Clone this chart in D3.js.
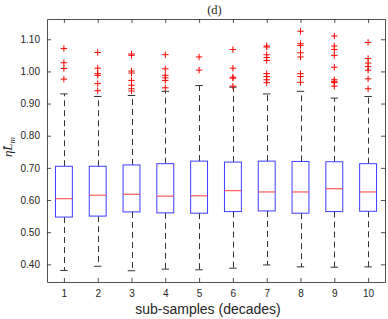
<!DOCTYPE html>
<html lang="en">
  <head>
    <meta charset="utf-8" />
    <script src="https://d3js.org/d3.v7.min.js"></script>
    <style>
      body { margin: 0; background: #fff; }
      .tick text { font-family: 'Liberation Sans', Arial, sans-serif; font-size: 10px; fill: #262626; }
    </style>
  </head>
  <body>
    <svg id="chart" width="388" height="319"></svg>
    <script>
      // sub-samples (decades)
      const categories = [1, 2, 3, 4, 5, 6, 7, 8, 9, 10];
      const q1 = [0.547, 0.550, 0.563, 0.560, 0.559, 0.564, 0.566, 0.559, 0.564, 0.565];
      const medians = [0.604, 0.615, 0.618, 0.612, 0.613, 0.629, 0.625, 0.625, 0.635, 0.625];
      const q3 = [0.705, 0.705, 0.709, 0.713, 0.721, 0.718, 0.721, 0.720, 0.719, 0.713];
      const whiskerLow = [0.381, 0.394, 0.380, 0.385, 0.383, 0.388, 0.398, 0.392, 0.391, 0.392];
      const whiskerHigh = [0.930, 0.922, 0.925, 0.938, 0.956, 0.951, 0.930, 0.938, 0.917, 0.922];
      const outliers = [
        [1.071, 1.027, 1.009, 0.976],
        [1.059, 1.010, 0.993, 0.988, 0.962, 0.940],
        [1.054, 1.050, 1.001, 0.995, 0.972, 0.957, 0.946, 0.939],
        [1.052, 1.008, 0.988, 0.980, 0.972, 0.949],
        [1.045, 1.004],
        [1.068, 1.010, 0.982, 0.979, 0.954],
        [1.079, 1.076, 1.052, 1.043, 1.034, 0.993, 0.984, 0.974, 0.965],
        [1.125, 1.086, 1.081, 1.058, 1.045, 0.993, 0.984, 0.966],
        [1.110, 1.079, 1.068, 1.050, 1.013, 0.974, 0.969, 0.965, 0.954],
        [1.090, 1.040, 1.026, 1.015, 1.004, 0.977, 0.946]
      ];
      const yTicks = [0.4, 0.5, 0.6, 0.7, 0.8, 0.9, 1.0, 1.1];

      const svg = d3.select('#chart');
      const margin = { top: 19, right: 3, bottom: 37, left: 47 };
      const width = 388 - margin.left - margin.right;
      const height = 319 - margin.top - margin.bottom;

      const x = d3.scaleLinear().domain([0.5, 10.5]).range([0, width]);
      const y = d3.scaleLinear().domain([0.345, 1.163]).range([height, 0]);

      const g = svg.append('g').attr('transform', `translate(${margin.left},${margin.top})`);

      const boxes = categories.map((c, i) => ({
        c, q1: q1[i], med: medians[i], q3: q3[i],
        lo: whiskerLow[i], hi: whiskerHigh[i], out: outliers[i]
      }));

      const halfBox = 0.25, halfCap = 0.11;

      const bg = g.selectAll('g.box').data(boxes).enter().append('g').attr('class', 'box');

      // whiskers
      bg.append('line')
        .attr('x1', d => Math.round(x(d.c)) + 0.5).attr('x2', d => Math.round(x(d.c)) + 0.5)
        .attr('y1', d => y(d.q3)).attr('y2', d => y(d.hi))
        .attr('stroke', '#333').attr('stroke-dasharray', '6,4');
      bg.append('line')
        .attr('x1', d => Math.round(x(d.c)) + 0.5).attr('x2', d => Math.round(x(d.c)) + 0.5)
        .attr('y1', d => y(d.q1)).attr('y2', d => y(d.lo))
        .attr('stroke', '#333').attr('stroke-dasharray', '6,4');
      // caps
      ['hi', 'lo'].forEach(k => {
        bg.append('line')
          .attr('x1', d => x(d.c - halfCap)).attr('x2', d => x(d.c + halfCap))
          .attr('y1', d => y(d[k])).attr('y2', d => y(d[k]))
          .attr('stroke', '#333');
      });

      // box
      bg.append('rect')
        .attr('x', d => x(d.c - halfBox)).attr('width', d => x(d.c + halfBox) - x(d.c - halfBox))
        .attr('y', d => y(d.q3)).attr('height', d => y(d.q1) - y(d.q3))
        .attr('fill', 'none').attr('stroke', '#3c3cff');

      // median
      bg.append('line')
        .attr('x1', d => x(d.c - halfBox)).attr('x2', d => x(d.c + halfBox))
        .attr('y1', d => y(d.med)).attr('y2', d => y(d.med))
        .attr('stroke', '#ff3b3b');

      // outliers
      bg.selectAll('path.out')
        .data(d => d.out.map(v => ({ c: d.c, v })))
        .enter().append('path')
        .attr('class', 'out')
        .attr('d', d => {
          const cx = x(d.c), cy = y(d.v), s = 3.2;
          return `M${cx - s},${cy}H${cx + s}M${cx},${cy - s}V${cy + s}`;
        })
        .attr('stroke', '#ff0000').attr('fill', 'none');

      // axes (ticks inward, box all round)
      const axisColor = '#262626';
      g.append('g').attr('transform', `translate(0,${height})`)
        .call(d3.axisBottom(x).tickValues(categories).tickSizeInner(-4).tickSizeOuter(0).tickPadding(8));
      g.append('g')
        .call(d3.axisLeft(y).tickValues(yTicks).tickFormat(d3.format('.2f')).tickSizeInner(-4).tickSizeOuter(0).tickPadding(7));
      g.append('g')
        .call(d3.axisTop(x).tickValues(categories).tickSizeInner(-4).tickSizeOuter(0).tickFormat(''));
      g.append('g').attr('transform', `translate(${width},0)`)
        .call(d3.axisRight(y).tickValues(yTicks).tickSizeInner(-4).tickSizeOuter(0).tickFormat(''));
      g.selectAll('.domain, .tick line').attr('stroke', axisColor).attr('stroke-width', 0.8);

      // title
      svg.append('text')
        .attr('x', 214.5).attr('y', 14)
        .attr('text-anchor', 'middle')
        .style('font-family', "'Liberation Serif', 'DejaVu Serif', serif")
        .style('font-size', '12.5px').attr('fill', '#262626')
        .text('(d)');

      // x label
      svg.append('text')
        .attr('x', 208).attr('y', 314)
        .attr('text-anchor', 'middle')
        .style('font-family', "'Liberation Sans', Arial, sans-serif")
        .style('font-size', '14px').attr('fill', '#262626')
        .text('sub-samples (decades)');

      // y label
      const yl = svg.append('text')
        .attr('transform', 'translate(12,147) rotate(-90)')
        .attr('text-anchor', 'middle')
        .style('font-family', "'Liberation Serif', 'DejaVu Serif', serif")
        .style('font-style', 'italic')
        .style('font-size', '13px').attr('fill', '#262626');
      yl.append('tspan').text('η\u0302');
      yl.append('tspan').text('L');
      yl.append('tspan').attr('dy', 3).style('font-size', '9px').text('m');
    </script>
  </body>
</html>
